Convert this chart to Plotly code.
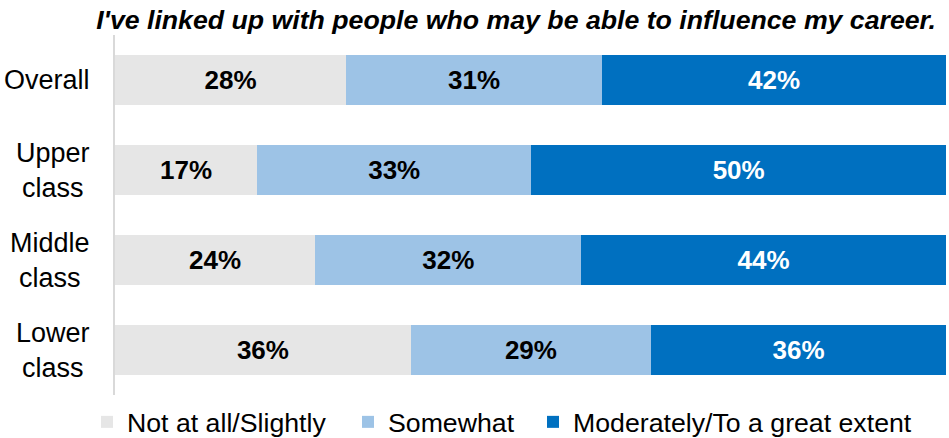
import plotly.graph_objects as go

categories = ["Overall", "Upper<br>class", "Middle<br>class", "Lower<br>class"]
series_names = ["Not at all/Slightly", "Somewhat", "Moderately/To a great extent"]
not_at_all = [27.8, 17.1, 24.1, 35.6]
somewhat = [30.8, 33.0, 32.0, 28.9]
moderately = [41.4, 49.9, 43.9, 35.5]
labels_not = ["28%", "17%", "24%", "36%"]
labels_some = ["31%", "33%", "32%", "29%"]
labels_mod = ["42%", "50%", "44%", "36%"]
title_text = "I've linked up with people who may be able to influence my career."

colors = ["#E6E6E6", "#9DC3E6", "#0070C0"]
text_colors = ["#000000", "#000000", "#FFFFFF"]
legend_ids = ["legend", "legend2", "legend3"]
legend_x_px = [87, 348, 533]
FONT = "Liberation Sans, Arial, sans-serif"

fig = go.Figure()
for name, vals, labs, col, tcol, lid in zip(series_names,
                                             [not_at_all, somewhat, moderately],
                                             [labels_not, labels_some, labels_mod],
                                             colors, text_colors, legend_ids):
    fig.add_trace(go.Bar(
        y=categories, x=vals, name=name, orientation="h",
        marker=dict(color=col, line=dict(width=0)),
        width=0.55,
        text=labs, textposition="inside", insidetextanchor="middle",
        textangle=0, constraintext="none",
        textfont=dict(family=FONT, size=26, color=tcol, weight="bold"),
        hoverinfo="skip",
        legend=lid,
    ))

for cat in categories:
    fig.add_annotation(
        x=0, xref="paper", y=cat, yref="y", text=cat, showarrow=False,
        xanchor="right", align="center", xshift=-23,
        font=dict(family=FONT, size=27, color="#000000"),
    )

legend_common = dict(
    orientation="h", xref="container", yref="container",
    xanchor="left", y=1 - 422 / 438, yanchor="middle",
    font=dict(family=FONT, size=26.7, color="#000000"),
    bgcolor="rgba(0,0,0,0)",
)

layout_legends = {}
for lid, xpx in zip(legend_ids, legend_x_px):
    layout_legends[lid] = dict(legend_common, x=xpx / 949)

fig.update_layout(
    barmode="stack",
    width=949, height=438,
    margin=dict(l=115, r=3, t=35, b=40),
    paper_bgcolor="white", plot_bgcolor="white",
    font=dict(family=FONT, size=26, color="#000000"),
    title=dict(
        text="<b><i>" + title_text + "</i></b>",
        x=0.4826, xref="paper", xanchor="center",
        y=1 - 20 / 438, yref="container", yanchor="middle",
        font=dict(family=FONT, size=26.7, color="#000000"),
    ),
    xaxis=dict(range=[0, 100], showticklabels=False, showgrid=False,
               zeroline=False, showline=False, fixedrange=True),
    yaxis=dict(autorange="reversed", showticklabels=False, showgrid=False,
               zeroline=False, showline=True, linecolor="#D9D9D9",
               linewidth=2, ticks=""),
    showlegend=True,
    **layout_legends,
)

fig.write_html("out.html")
